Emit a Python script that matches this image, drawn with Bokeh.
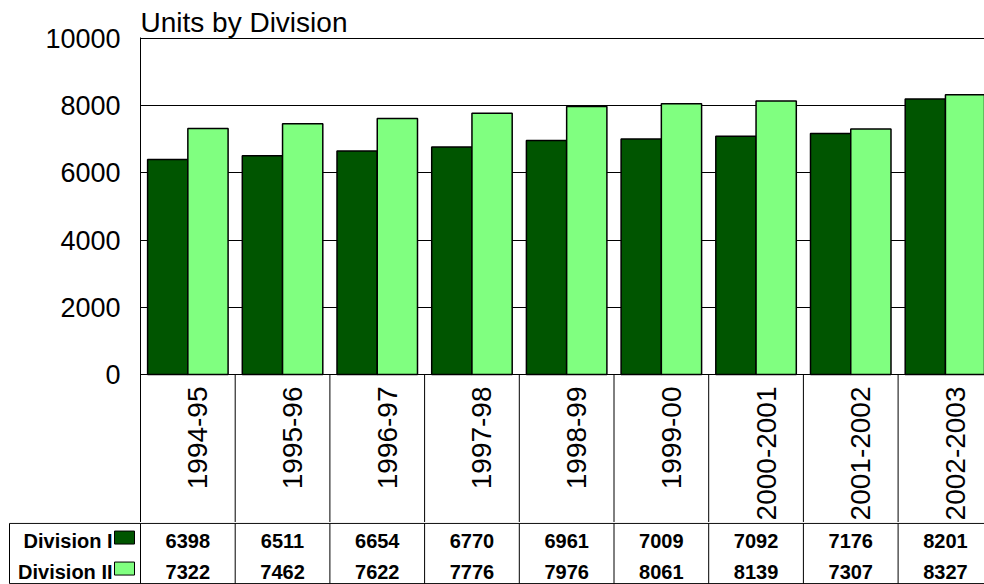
import math
from bokeh.plotting import figure
from bokeh.models import Range1d, FixedTicker, ColumnDataSource
from bokeh.layouts import column
from bokeh.core.properties import value
from bokeh.embed import file_html
from bokeh.resources import INLINE

# ---------------- data ----------------
categories = ["1994-95", "1995-96", "1996-97", "1997-98", "1998-99",
              "1999-00", "2000-2001", "2001-2002", "2002-2003"]
series_names = ["Division I", "Division II"]
division_1 = [6398, 6511, 6654, 6770, 6961, 7009, 7092, 7176, 8201]
division_2 = [7322, 7462, 7622, 7776, 7976, 8061, 8139, 7307, 8327]
y_ticks = [0, 2000, 4000, 6000, 8000, 10000]

# ---------------- style / layout ----------------
FONT = "Liberation Sans"
DARK = "#005500"
LIGHT = "#80FF80"
PX_PER_CAT = 94.7
PX_PER_UNIT = 336 / 10000.0   # pixels per data unit on the y axis
W = 984
MAIN_H = 522
LEFT = 140
TOP = 37
X_END = (W - LEFT) / PX_PER_CAT
Y_END = 10000 + 1 / PX_PER_UNIT
Y0_LOCAL = 374
Y_START = -(MAIN_H - Y0_LOCAL) / PX_PER_UNIT
BAR_W = 0.425

n = len(categories)
centers = [i + 0.5 for i in range(n)]

p = figure(width=W, height=MAIN_H, output_backend="svg", toolbar_location=None,
           x_range=Range1d(0, X_END), y_range=Range1d(Y_START, Y_END),
           x_axis_location=None, min_border_left=LEFT, min_border_right=0,
           min_border_top=TOP, min_border_bottom=0, title="Units by Division")
p.frame_align = False
p.outline_line_color = None
p.background_fill_color = "white"
p.border_fill_color = "white"
p.title.text_font = FONT
p.title.text_font_size = "28px"
p.title.text_font_style = "normal"
p.title.text_color = "black"
p.title.standoff = 0
p.title.offset = 0
p.title.align = "left"

p.yaxis.ticker = FixedTicker(ticks=y_ticks)
p.yaxis.major_label_text_font = FONT
p.yaxis.major_label_text_font_size = "27px"
p.yaxis.major_label_text_color = "black"
p.yaxis.major_tick_line_color = None
p.yaxis.minor_tick_line_color = None
p.yaxis.major_tick_out = 0
p.yaxis.major_tick_in = 0
p.yaxis.major_label_standoff = 20
p.yaxis.axis_line_color = "black"
p.yaxis.axis_line_width = 1
p.xgrid.grid_line_color = None
p.ygrid.ticker = FixedTicker(ticks=y_ticks)
p.ygrid.grid_line_color = "black"
p.ygrid.grid_line_width = 1

src = ColumnDataSource(dict(
    x1=[c - BAR_W / 2 for c in centers],
    x2=[c + BAR_W / 2 for c in centers],
    d1=division_1, d2=division_2))
p.vbar(x="x1", top="d1", bottom=0, width=BAR_W, source=src,
       fill_color=DARK, line_color="black", line_width=1.5)
p.vbar(x="x2", top="d2", bottom=0, width=BAR_W, source=src,
       fill_color=LIGHT, line_color="black", line_width=1.5)

# category labels (rotated), clipped by the frame bottom
p.text(x=centers, y=[0] * n, text=categories, angle=math.pi / 2,
       text_align="right", text_baseline="middle", x_offset=10, y_offset=12,
       text_font=value(FONT), text_font_size="28px", text_color="black")

bounds = list(range(1, n + 1))
p.segment(x0=bounds, y0=[0] * n, x1=bounds, y1=[Y_START] * n,
          line_color="black", line_width=1)

# ---------------- data table ----------------
TAB_H = 62
T_X_START = -LEFT / PX_PER_CAT
TABLE_LEFT = T_X_START + 9 / PX_PER_CAT
ROW_Y = [1.40, 0.37]
SWATCH_UP = 0.13
t = figure(width=W, height=TAB_H, output_backend="svg", toolbar_location=None,
           x_range=Range1d(T_X_START, X_END), y_range=Range1d(-0.03, 2.03),
           x_axis_location=None, y_axis_location=None, min_border=0)
t.frame_align = False
t.outline_line_color = None
t.xgrid.grid_line_color = None
t.ygrid.grid_line_color = None
t.background_fill_color = "white"
t.border_fill_color = "white"

vx = [TABLE_LEFT] + list(range(0, n + 1))
t.segment(x0=vx, y0=[0] * len(vx), x1=vx, y1=[2] * len(vx),
          line_color="black", line_width=1)
t.segment(x0=[TABLE_LEFT] * 2, y0=[0, 2], x1=[n, n], y1=[0, 2],
          line_color="black", line_width=1)

t.text(x=centers, y=[ROW_Y[0]] * n, text=[str(v) for v in division_1],
       text_align="center", text_baseline="middle", text_font=value(FONT),
       text_font_size="20px", text_font_style="bold", text_color="black")
t.text(x=centers, y=[ROW_Y[1]] * n, text=[str(v) for v in division_2],
       text_align="center", text_baseline="middle", text_font=value(FONT),
       text_font_size="20px", text_font_style="bold", text_color="black")

HEADER_X = T_X_START + 112 / PX_PER_CAT
SWATCH_X = T_X_START + 124 / PX_PER_CAT
t.text(x=[HEADER_X] * 2, y=ROW_Y, text=series_names, text_align="right",
       text_baseline="middle", text_font=value(FONT), text_font_size="20px",
       text_font_style="bold", text_color="black")
t.rect(x=[SWATCH_X] * 2, y=[ROW_Y[0] + SWATCH_UP, ROW_Y[1] + SWATCH_UP],
       width=20, height=13, width_units="screen", height_units="screen",
       fill_color=[DARK, LIGHT], line_color="black", line_width=1)

layout = column(p, t, spacing=0)
open("out.html", "w").write(file_html(layout, INLINE))
